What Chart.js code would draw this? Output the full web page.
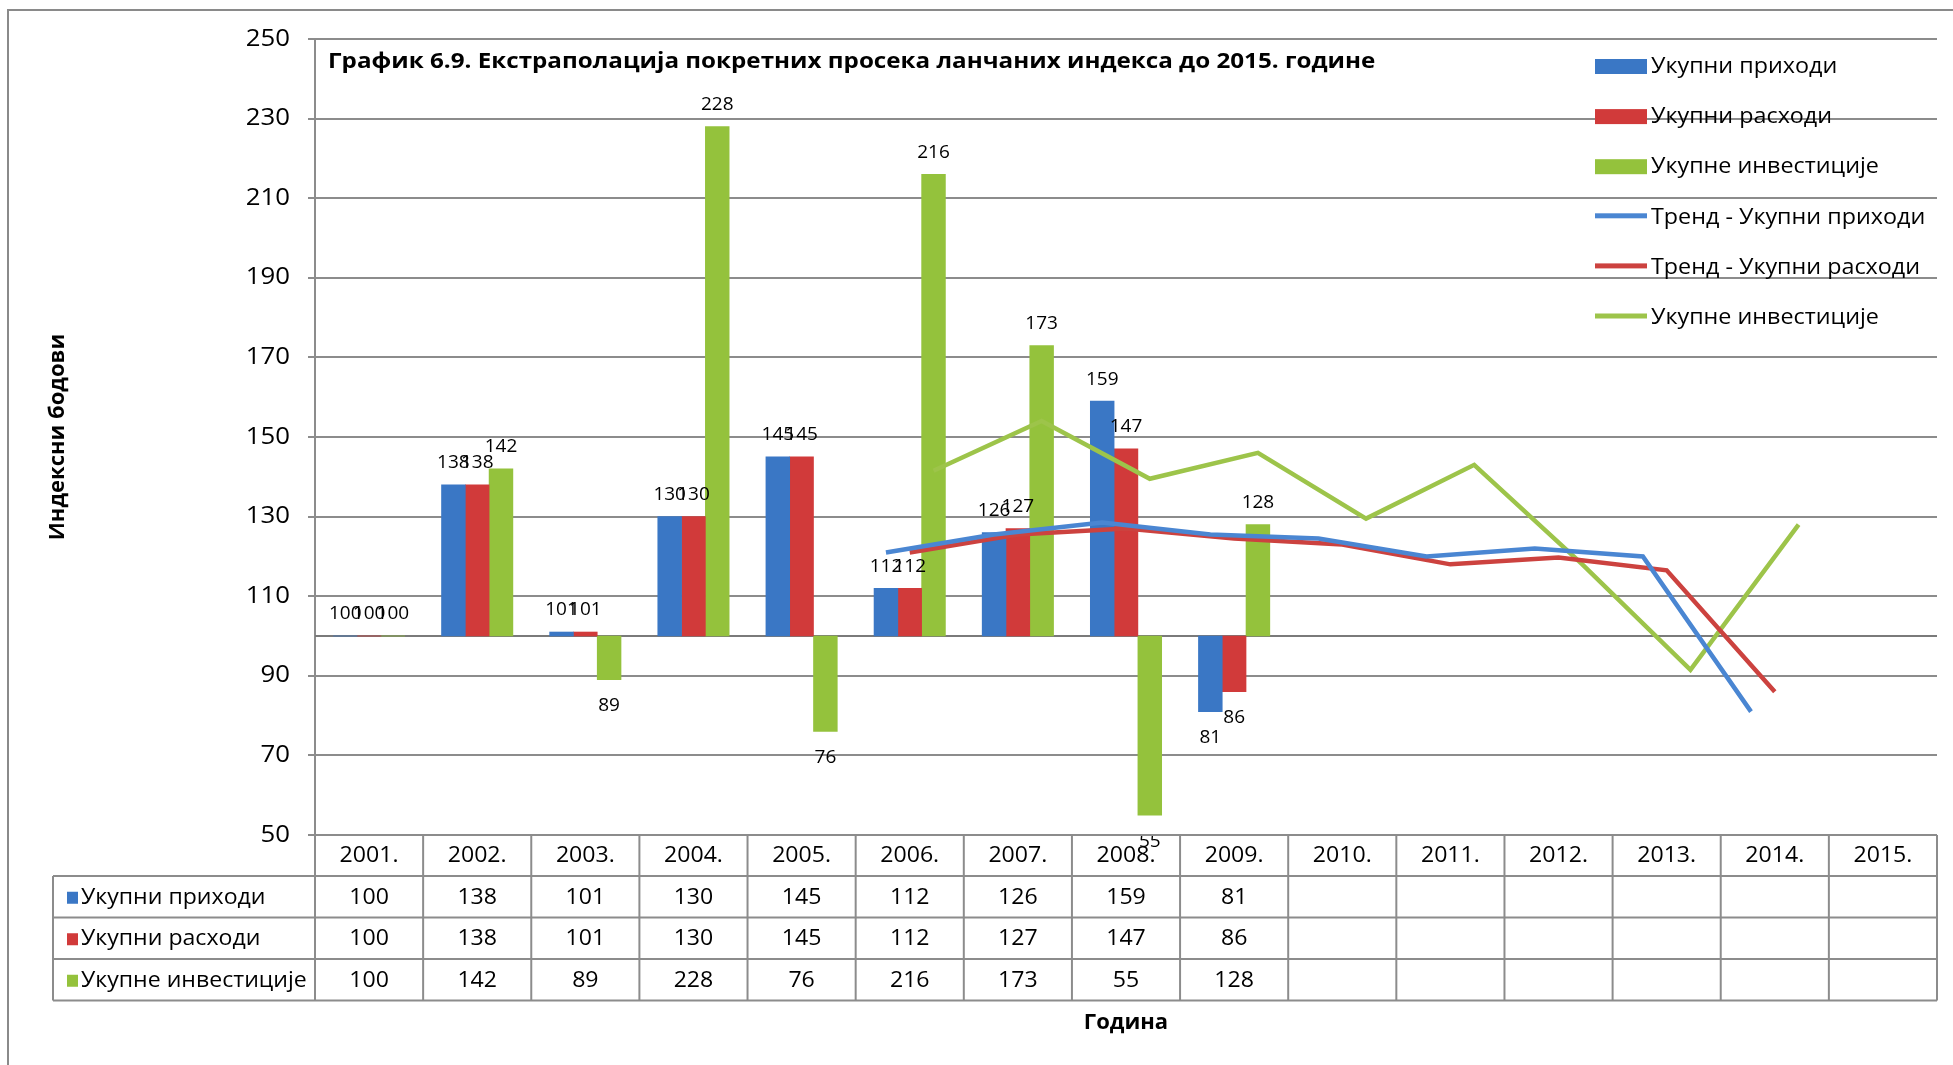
<!DOCTYPE html>
<html><head><meta charset="utf-8">
<script src="https://cdn.jsdelivr.net/npm/chart.js@4.4.1/dist/chart.umd.min.js"></script>
<style>html,body{margin:0;padding:0;background:#fff;}#wrap{width:1953px;height:1065px;position:relative;}</style>
</head><body><div id="wrap"><canvas id="c" width="1953" height="1065"></canvas></div>
<script>
// ---- data ----
const years = ['2001.','2002.','2003.','2004.','2005.','2006.','2007.','2008.','2009.','2010.','2011.','2012.','2013.','2014.','2015.'];
const seriesNames = ['Укупни приходи','Укупни расходи','Укупне инвестиције'];
const trendNames = ['Тренд - Укупни приходи','Тренд - Укупни расходи','Укупне инвестиције'];
const revenue = [100,138,101,130,145,112,126,159,81];
const expenses = [100,138,101,130,145,112,127,147,86];
const investment = [100,142,89,228,76,216,173,55,128];
const trendRevenue = [null,null,null,null,null,121,125.5,128.5,125.5,124.5,120,122,120,81,null];
const trendExpenses = [null,null,null,null,null,121,125.5,127,124.5,123,118,119.7,116.5,86,null];
const trendInvestment = [null,null,null,null,null,141.5,154,139.5,146,129.5,143,118,91.5,128,null];
const baseIndex = 100;
const yMin = 50, yMax = 250, yStep = 20;
const chartTitle = 'График 6.9. Екстраполација покретних просека ланчаних индекса до 2015. године';
const yTitle = 'Индексни бодови';
const xTitle = 'Година';

// ---- styles ----
const FONT = "'Open Sans', 'Noto Sans', sans-serif";
const LABEL_FONT = "'Liberation Sans Narrow', 'Open Sans', sans-serif";
const barColors = ['#3a77c5', '#d13a3a', '#94c23c'];
const lineColors = ['#4a86d2', '#cc423f', '#9dc44a'];
const GRID = '#8c8c8c';
const GROUP_FRAC = 0.66;              // share of a category taken by the three bars
const SLOT = GROUP_FRAC / 3;          // one bar slot, in category units

const barSeries = [revenue, expenses, investment];
const trendSeries = [trendRevenue, trendExpenses, trendInvestment];

const datasets = [];
barSeries.forEach((vals, k) => {
  const off = (k - 1) * SLOT;
  datasets.push({
    type: 'bar', label: seriesNames[k], data: vals.map((v, i) => ({x: i + off, y: [baseIndex, v]})),
    backgroundColor: barColors[k], borderWidth: 0, grouped: false, categoryPercentage: 1, barPercentage: 1,
    xAxisID: 'xl', yAxisID: 'y', order: 2
  });
});
trendSeries.forEach((vals, k) => {
  const off = (k - 1) * SLOT; // trend follows the centre of the matching bar
  const pts = [];
  vals.forEach((v, i) => { if (v !== null) pts.push({x: i + off, y: v}); });
  datasets.push({
    type: 'line', label: trendNames[k], data: pts, borderColor: lineColors[k], borderWidth: 4.5,
    pointRadius: 0, fill: false, tension: 0, xAxisID: 'xl', yAxisID: 'y', order: 1
  });
});

function txt(ctx, s, x, y, font, align, sx, color) {
  ctx.save();
  ctx.translate(x, y); ctx.scale(sx || 1, 1);
  ctx.font = font; ctx.textAlign = align || 'center'; ctx.textBaseline = 'middle';
  ctx.fillStyle = color || '#000'; ctx.fillText(s, 0, 0); ctx.restore();
}
function hline(ctx, x1, x2, y, color, w) { ctx.beginPath(); ctx.strokeStyle = color; ctx.lineWidth = w; ctx.moveTo(x1, y); ctx.lineTo(x2, y); ctx.stroke(); }
function vline(ctx, x, y1, y2, color, w) { ctx.beginPath(); ctx.strokeStyle = color; ctx.lineWidth = w; ctx.moveTo(x, y1); ctx.lineTo(x, y2); ctx.stroke(); }

const decor = {
  id: 'decor',
  beforeDatasetsDraw(chart) {
    const ctx = chart.ctx, a = chart.chartArea, y = chart.scales.y;
    hline(ctx, a.left, a.right, y.getPixelForValue(baseIndex), '#7a7a7a', 2);
  },
  afterDatasetsDraw(chart) {
    const ctx = chart.ctx, ys = chart.scales.y;
    barSeries.forEach((vals, k) => {
      const meta = chart.getDatasetMeta(k);
      meta.data.forEach((el, i) => {
        const v = vals[i];
        const py = ys.getPixelForValue(v);
        const ty = v >= baseIndex ? py - 22 : py + 26;
        txt(ctx, String(v), el.x, ty, '19px ' + LABEL_FONT, 'center');
      });
    });
  },
  afterDraw(chart) {
    const ctx = chart.ctx, a = chart.chartArea, xs = chart.scales.xl, ys = chart.scales.y;
    // outer frame
    ctx.save();
    ctx.beginPath(); ctx.strokeStyle = '#8a8a8a'; ctx.lineWidth = 2;
    ctx.moveTo(8, 1065); ctx.lineTo(8, 10); ctx.lineTo(1953, 10); ctx.stroke();
    ctx.restore();
    // y tick labels
    ys.ticks.forEach(t => txt(ctx, String(t.value), a.left - 25, ys.getPixelForValue(t.value), '23px ' + FONT, 'right', 1.12));
    // title
    txt(ctx, chartTitle, a.left + 13, 62, 'bold 22px ' + FONT, 'left', 1.1);
    // y title
    ctx.save(); ctx.translate(58, (a.top + a.bottom) / 2); ctx.rotate(-Math.PI / 2);
    txt(ctx, yTitle, 0, 0, 'bold 22px ' + FONT, 'center', 1.0); ctx.restore();
    // x title
    txt(ctx, xTitle, (a.left + a.right) / 2, 1023, 'bold 22px ' + FONT, 'center', 1.0);
    // legend
    const lx = 1595, lw = 52, ly0 = 66, lstep = 50.1;
    chart.data.datasets.forEach((ds, i) => {
      const cy = ly0 + i * lstep;
      if (ds.type === 'bar') { ctx.fillStyle = ds.backgroundColor; ctx.fillRect(lx, cy - 7, lw, 15); }
      else { ctx.fillStyle = ds.borderColor; ctx.fillRect(lx, cy - 3, lw, 5); }
      txt(ctx, ds.label, lx + lw + 4, cy + 1, '22px ' + FONT, 'left', 1.06);
    });
    // data table
    const n = years.length;
    const rowTop = a.bottom, hH = 41, rH = 41.5, tLeft = 53;
    const rows = [rowTop, rowTop + hH, rowTop + hH + rH, rowTop + hH + 2 * rH, rowTop + hH + 3 * rH];
    hline(ctx, a.left, a.right, rows[0], GRID, 2);
    for (let r = 1; r < rows.length; r++) hline(ctx, tLeft, a.right, rows[r], GRID, 2);
    vline(ctx, tLeft, rows[1], rows[4], GRID, 2);
    for (let i = 0; i <= n; i++) vline(ctx, xs.getPixelForValue(i - 0.5), rows[0], rows[4], GRID, 2);
    years.forEach((yr, i) => txt(ctx, yr, xs.getPixelForValue(i), (rows[0] + rows[1]) / 2 + 1, '21px ' + FONT, 'center', 1.1));
    barSeries.forEach((vals, k) => {
      const cy = (rows[k + 1] + rows[k + 2]) / 2 + 1;
      ctx.fillStyle = barColors[k]; ctx.fillRect(tLeft + 14, cy - 6, 11, 12);
      txt(ctx, seriesNames[k], tLeft + 28, cy, '21px ' + FONT, 'left', 1.1);
      vals.forEach((v, i) => txt(ctx, String(v), xs.getPixelForValue(i), cy, '21px ' + FONT, 'center', 1.1));
    });
  }
};

Chart.defaults.font.family = FONT;
new Chart(document.getElementById('c'), {
  type: 'bar',
  data: { labels: years, datasets },
  options: {
    responsive: false, animation: false, devicePixelRatio: 1,
    layout: { padding: { left: 0, top: 39, right: 16, bottom: 230 } },
    plugins: { legend: { display: false }, tooltip: { enabled: false }, title: { display: false } },
    scales: {
      xl: { type: 'linear', display: false, offset: false, min: -0.5, max: years.length - 0.5 },
      y: {
        min: yMin, max: yMax,
        ticks: { stepSize: yStep, display: false },
        grid: { color: GRID, lineWidth: 2, tickLength: 7, drawTicks: true },
        border: { color: GRID, width: 2 },
        afterFit: s => { s.width = 315; }
      }
    }
  },
  plugins: [decor]
});
</script></body></html>
